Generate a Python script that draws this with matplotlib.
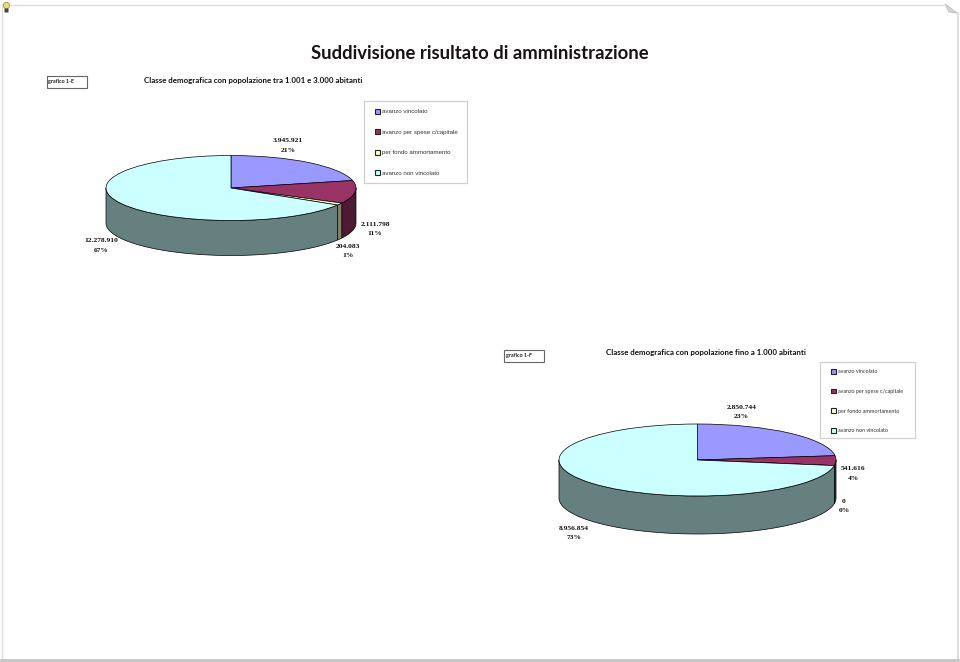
import numpy as np
import matplotlib
matplotlib.use("Agg")
import matplotlib.pyplot as plt
from matplotlib.patches import Rectangle, Polygon

W, H = 960, 662

main_title = "Suddivisione risultato di amministrazione"
categories = ["avanzo vincolato", "avanzo per spese c/capitale",
              "per fondo ammortamento", "avanzo non vincolato"]
values_e = [3945921, 2111798, 204083, 12278910]
values_f = [2850744, 541616, 0, 8956854]
percent_e = ["21%", "11%", "1%", "67%"]
percent_f = ["23%", "4%", "0%", "73%"]
title_e = "Classe demografica con popolazione tra 1.001 e 3.000 abitanti"
title_f = "Classe demografica con popolazione fino a 1.000 abitanti"
tag_e = "grafico 1-E"
tag_f = "grafico 1-F"
colors_top = ["#9999FF", "#993366", "#FFFFCC", "#CCFFFF"]
colors_side = ["#4C4C80", "#4D1A33", "#808066", "#668080"]

fig = plt.figure(figsize=(W / 100, H / 100), dpi=100, facecolor="white")
page = fig.add_axes([0, 0, 1, 1])
page.set_xlim(0, W)
page.set_ylim(H, 0)
page.axis("off")


def fmt(v):
    return f"{v:,}".replace(",", ".")


def pie3d(values, cx, cy, rx, ry, depth):
    d = depth / ry
    ax = fig.add_axes([(cx - rx) / W, 1 - (cy + ry + depth) / H,
                       2 * rx / W, (2 * ry + depth) / H])
    frac = np.array(values, float) / sum(values)
    edges = np.concatenate([[0], np.cumsum(frac)]) * 2 * np.pi
    for i in range(len(values)):
        a = max(edges[i], np.pi / 2)
        b = min(edges[i + 1], 3 * np.pi / 2)
        if b <= a:
            continue
        t = np.linspace(a, b, 80)
        x, y = np.sin(t), np.cos(t)
        pts = np.r_[np.c_[x, y], np.c_[x[::-1], y[::-1] - d]]
        ax.add_patch(Polygon(pts, closed=True, fc=colors_side[i], ec="black",
                             lw=0.5, clip_on=False, zorder=1))
    wedges, _ = ax.pie(values, colors=colors_top, startangle=90, counterclock=False,
                       radius=1, wedgeprops=dict(ec="black", lw=0.5, clip_on=False, zorder=2))
    ax.set_aspect("auto")
    ax.set_xlim(-1, 1)
    ax.set_ylim(-1 - d, 1)
    ax.axis("off")
    return wedges


def add_legend(handles, box, x, y, font, size, pitch):
    page.add_patch(Rectangle((box[0], box[1]), box[2] - box[0], box[3] - box[1],
                             fc="white", ec="#D0D0D0", lw=0.9, zorder=5))
    px = size * 100 / 72
    leg = fig.legend(handles, categories, loc="upper left",
                     bbox_to_anchor=(x / W, 1 - y / H), borderaxespad=0,
                     prop=dict(family=font, size=size), frameon=False,
                     handlelength=5 / px, handleheight=5 / px, handletextpad=1.5 / px,
                     labelspacing=(pitch - px * 1.0) / px, borderpad=0, labelcolor="#333333")
    for h in leg.legend_handles:
        h.set_linewidth(0.8)
        h.set_edgecolor("#222222")
    return leg


def value_label(v, p, x, y):
    page.text(x, y, fmt(v), ha="center", va="center", family="Liberation Serif",
              weight="bold", size=5.4, color="#111111")
    page.text(x, y + 9.5, p, ha="center", va="center", family="Liberation Serif",
              weight="bold", size=5.4, color="#111111")


def tag(text, x0, y0, w, h):
    page.add_patch(Rectangle((x0, y0), w, h, fc="white", ec="#666666", lw=0.8))
    page.text(x0 + 1.5, y0 + h / 2 - 0.5, text, ha="left", va="center", family="Lato",
              weight="bold", size=3.9, color="#222222")


# page outline
page.plot([2, 945], [4.5, 4.5], color="#DDDDDD", lw=1.0)
page.plot([1.5, 1.5], [4, 659], color="#DDDDDD", lw=1.0)
page.plot([957.5, 957.5], [13, 659], color="#D8D8D8", lw=1.2)
page.plot([1, 958], [659.5, 659.5], color="#C4C4C4", lw=2.0)
page.add_patch(Polygon([(945, 4), (957, 13), (949, 12)], closed=True, fc="#D4D4D4",
                       ec="#BBBBBB", lw=0.6))
page.plot([5.5], [4.5], "o", ms=4.5, mfc="#E8E070", mec="#A09A40", mew=0.6)
page.plot([5.5], [9.5], "s", ms=2.2, mfc="#444444", mec="none")

page.text(480, 53.7, main_title, ha="center", va="center", family="Lato",
          weight="bold", size=13.3, color="#1A1214")
page.text(144, 80, title_e, ha="left", va="center", family="Lato",
          weight="bold", size=5.65, color="#111111")
page.text(606, 352.5, title_f, ha="left", va="center", family="Lato",
          weight="bold", size=5.7, color="#111111")
tag(tag_e, 47, 75.5, 39.5, 12)
tag(tag_f, 504, 350, 40, 12)

w_e = pie3d(values_e, 231, 188, 125, 32.5, 35)
w_f = pie3d(values_f, 697.5, 460, 138.5, 36, 38)

add_legend(w_e, (364, 101, 467, 183), 375, 109, "Liberation Sans", 4.4, 21.0)
add_legend(w_f, (819.5, 362, 915, 438), 831, 369, "Lato", 3.9, 20.0)

for v, p, x, y in zip(values_e, percent_e, [288, 375, 348, 101], [141, 224, 246, 241]):
    value_label(v, p, x, y)
for v, p, x, y in zip(values_f, percent_f, [741.5, 853, 844, 574], [407.5, 469, 501.5, 528]):
    value_label(v, p, x, y)

fig.savefig("out.png", dpi=100)
